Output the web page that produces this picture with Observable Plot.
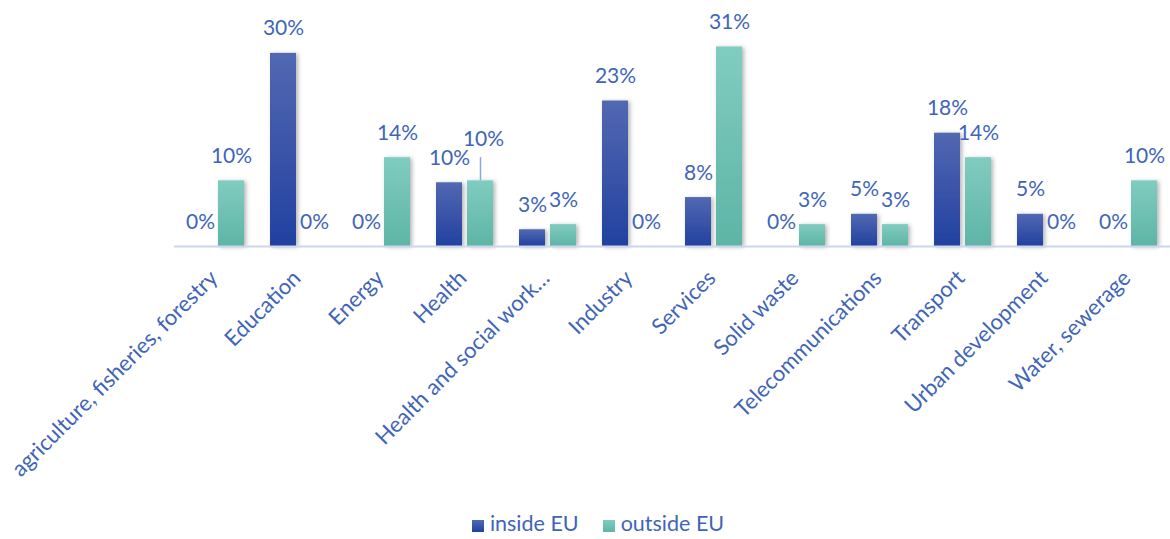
<!DOCTYPE html>
<html>
<head>
<meta charset="utf-8">
<script src="https://cdn.jsdelivr.net/npm/d3@7"></script>
<script src="https://cdn.jsdelivr.net/npm/@observablehq/plot@0.6"></script>
<style>
  html, body { margin: 0; padding: 0; background: #fff; width: 1170px; height: 539px; overflow: hidden; }
  #chart svg { display: block; }
  .legend { display: flex; justify-content: center; align-items: center; gap: 24px; font-family: Lato, "Open Sans", sans-serif; font-size: 21.5px; color: #3F65B9; height: 46px; padding-left: 26px; }
  .legend span.sw { display: inline-block; width: 12px; height: 12px; margin-right: 6px; vertical-align: -1px; }
</style>
</head>
<body>
<div id="chart"></div>
<div class="legend">
  <div><span class="sw" style="background: linear-gradient(#4F6AB5, #2241A0)"></span>inside EU</div>
  <div><span class="sw" style="background: linear-gradient(#80CCC0, #5DB5A6)"></span>outside EU</div>
</div>
<script>
const categories = [
  "agriculture, fisheries, forestry", "Education", "Energy", "Health",
  "Health and social work…", "Industry", "Services", "Solid waste",
  "Telecommunications", "Transport", "Urban development", "Water, sewerage"
];
const series = ["inside EU", "outside EU"];
const insideEU  = [0, 30, 0, 9.9, 2.6, 22.6, 7.6, 0, 5, 17.6, 5, 0];
const outsideEU = [10.2, 0, 13.8, 10.2, 3.4, 0, 31, 3.4, 3.4, 13.8, 0, 10.2];

const data = categories.flatMap((c, i) => [
  {category: c, series: series[0], value: insideEU[i]},
  {category: c, series: series[1], value: outsideEU[i]}
]);

const textColor = "#3F65B9";
const isCallout = d => d.category === "Health" && d.series === "outside EU";

const svg = Plot.plot({
  width: 1170,
  height: 500,
  marginLeft: 173,
  marginRight: 0,
  marginTop: 40,
  marginBottom: 254,
  style: {fontFamily: "Lato, 'Open Sans', sans-serif", background: "white", overflow: "visible"},
  fx: {domain: categories, padding: 0, label: null},
  x: {domain: series, paddingInner: 0.156, paddingOuter: 0.375, axis: null},
  y: {domain: [0, 32], axis: null},
  color: {domain: series, range: ["url(#gIn)", "url(#gOut)"]},
  marks: [
    Plot.barY(data, {fx: "category", x: "series", y: "value", fill: "series", filter: d => d.value > 0}),
    Plot.ruleY([0], {stroke: "#CBD5EC", strokeWidth: 2}),
    Plot.text(data, {fx: "category", x: "series", y: "value", text: d => Math.round(d.value) + "%",
      lineAnchor: "bottom", dy: -18, fontSize: 21, fill: textColor, filter: d => !isCallout(d)}),
    Plot.ruleX(data, {fx: "category", x: "series", y1: "value", y2: d => d.value + 3.6,
      stroke: "#8EA6DB", strokeWidth: 1.5, filter: isCallout}),
    Plot.text(data, {fx: "category", x: "series", y: "value", text: d => Math.round(d.value) + "%",
      lineAnchor: "bottom", dy: -35, dx: 3, fontSize: 21, fill: textColor, filter: isCallout}),
    Plot.axisFx({anchor: "bottom", tickRotate: -45, tickSize: 0, tickPadding: 28, dx: -2, fontSize: 22, label: null, fill: textColor})
  ]
});

const s = d3.select(svg);
const defs = s.insert("defs", ":first-child");
const g1 = defs.append("linearGradient").attr("id", "gIn").attr("x1", 0).attr("y1", 0).attr("x2", 0).attr("y2", 1);
g1.append("stop").attr("offset", "0%").attr("stop-color", "#5268B2");
g1.append("stop").attr("offset", "100%").attr("stop-color", "#2241A0");
const g2 = defs.append("linearGradient").attr("id", "gOut").attr("x1", 0).attr("y1", 0).attr("x2", 0).attr("y2", 1);
g2.append("stop").attr("offset", "0%").attr("stop-color", "#80CCC0");
g2.append("stop").attr("offset", "100%").attr("stop-color", "#5DB5A6");
const f = defs.append("filter").attr("id", "sh").attr("x", "-30%").attr("y", "-10%").attr("width", "160%").attr("height", "130%");
f.append("feDropShadow").attr("dx", 2).attr("dy", 1).attr("stdDeviation", 2).attr("flood-color", "#000").attr("flood-opacity", 0.3);
s.selectAll("g[aria-label='bar'] rect").attr("filter", "url(#sh)");

document.getElementById("chart").appendChild(svg);
</script>
</body>
</html>
